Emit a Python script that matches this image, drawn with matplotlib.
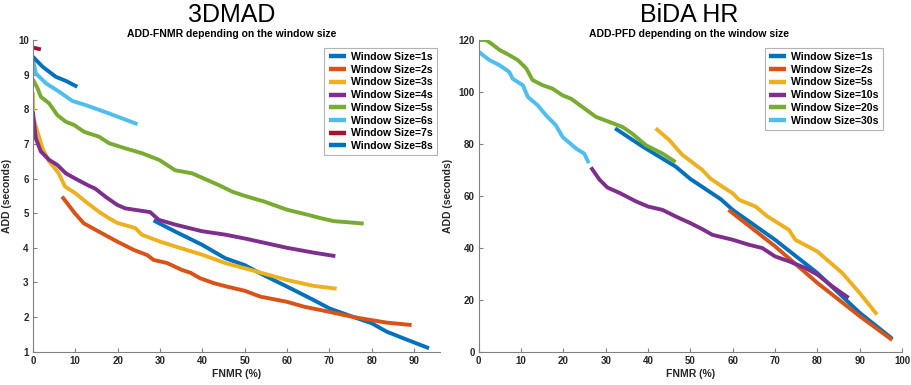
import matplotlib
matplotlib.use("Agg")
import matplotlib.pyplot as plt

plt.rcParams['font.family'] = ['Liberation Sans', 'DejaVu Sans']

C = ['#0072BD', '#D95319', '#EDB120', '#7E2F8E', '#77AC30', '#4DBEEE', '#A2142F', '#0072BD']

# ---------------- 3DMAD (left) ----------------
left_labels = ['Window Size=1s', 'Window Size=2s', 'Window Size=3s', 'Window Size=4s',
               'Window Size=5s', 'Window Size=6s', 'Window Size=7s', 'Window Size=8s']

w1_x = [28.5, 33.6, 39.9, 45.4, 50.0, 54.5, 60.0, 66.3, 70.0, 75.7, 80.0, 83.5, 87.6, 93.5]
w1_y = [4.79, 4.47, 4.09, 3.70, 3.50, 3.21, 2.88, 2.49, 2.25, 2.00, 1.82, 1.58, 1.38, 1.10]

w2_x = [6.9, 9.9, 12.0, 14.8, 19.9, 23.8, 27.0, 28.5, 31.7, 35.2, 37.2, 39.5, 42.7, 45.8,
        50.0, 53.7, 60.0, 64.0, 70.0, 75.7, 80.0, 83.5, 89.4]
w2_y = [5.48, 5.00, 4.71, 4.52, 4.18, 3.94, 3.79, 3.65, 3.56, 3.36, 3.28, 3.12, 2.98, 2.88,
        2.76, 2.59, 2.44, 2.30, 2.15, 2.00, 1.91, 1.84, 1.77]

w3_x = [0.0, 0.1, 1.1, 2.3, 3.85, 4.9, 6.1, 7.6, 10.0, 12.4, 15.5, 17.9, 19.9, 24.2, 25.7,
        30.0, 33.6, 40.0, 45.4, 50.0, 60.0, 66.3, 71.7]
w3_y = [8.49, 7.76, 7.35, 6.87, 6.49, 6.34, 6.15, 5.77, 5.58, 5.34, 5.05, 4.86, 4.72, 4.57, 4.38,
        4.18, 4.04, 3.80, 3.56, 3.41, 3.07, 2.90, 2.82]

w4_x = [0.0, 0.7, 1.9, 3.85, 5.8, 7.8, 10.0, 13.1, 14.7, 17.1, 19.9, 21.8, 25.0, 27.7, 29.7,
        33.6, 39.9, 45.4, 50.0, 60.0, 66.3, 71.4]
w4_y = [7.93, 7.16, 6.78, 6.54, 6.39, 6.15, 6.00, 5.80, 5.71, 5.48, 5.24, 5.14, 5.08, 5.03, 4.81,
        4.67, 4.48, 4.38, 4.27, 4.00, 3.86, 3.76]

w5_x = [0.0, 1.1, 1.9, 3.85, 5.8, 7.8, 9.7, 12.1, 15.6, 18.0, 21.9, 25.8, 29.8, 33.6, 37.6,
        43.9, 47.1, 50.0, 54.5, 60.0, 64.7, 67.8, 71.0, 74.2, 78.1]
w5_y = [8.87, 8.61, 8.36, 8.17, 7.83, 7.64, 7.55, 7.35, 7.21, 7.02, 6.87, 6.73, 6.54, 6.24, 6.15,
        5.81, 5.62, 5.50, 5.34, 5.10, 4.96, 4.86, 4.77, 4.74, 4.70]

w6_x = [0.0, 0.7, 3.1, 6.2, 9.35, 12.5, 18.0, 24.7]
w6_y = [9.47, 9.04, 8.75, 8.51, 8.24, 8.12, 7.88, 7.57]

w7_x = [0.1, 1.9]
w7_y = [9.78, 9.73]

w8_x = [0.0, 2.3, 5.4, 7.8, 10.5]
w8_y = [9.52, 9.23, 8.94, 8.82, 8.65]

left_series = [(w1_x, w1_y), (w2_x, w2_y), (w3_x, w3_y), (w4_x, w4_y),
               (w5_x, w5_y), (w6_x, w6_y), (w7_x, w7_y), (w8_x, w8_y)]
left_xticks = [0, 10, 20, 30, 40, 50, 60, 70, 80, 90]
left_yticks = [1, 2, 3, 4, 5, 6, 7, 8, 9, 10]

# ---------------- BiDA HR (right) ----------------
right_labels = ['Window Size=1s', 'Window Size=2s', 'Window Size=5s',
                'Window Size=10s', 'Window Size=20s', 'Window Size=30s']

r1_x = [32.2, 38.7, 46.5, 50.0, 57.2, 60.0, 70.0, 80.0, 90.0, 97.7]
r1_y = [86.0, 79.0, 71.3, 66.5, 58.7, 54.6, 43.1, 30.3, 15.0, 5.0]

r2_x = [59.0, 70.0, 80.0, 90.0, 97.7]
r2_y = [54.6, 40.6, 26.5, 13.7, 4.5]

r5_x = [41.8, 45.0, 48.1, 52.8, 54.8, 57.5, 60.0, 61.5, 65.4, 68.2, 73.3, 74.8, 80.0, 82.7,
        85.9, 90.0, 94.1]
r5_y = [86.0, 81.5, 75.8, 70.0, 66.6, 63.6, 61.0, 58.5, 55.9, 52.1, 46.9, 43.1, 38.6, 34.8,
        30.3, 22.6, 14.3]

r10_x = [26.5, 28.5, 30.4, 33.2, 37.1, 40.0, 43.4, 46.5, 50.0, 52.8, 55.2, 60.0, 63.8, 67.0,
         70.0, 73.3, 77.2, 80.0, 83.5, 87.4]
r10_y = [71.0, 66.3, 63.2, 61.2, 57.9, 55.9, 54.6, 52.1, 49.5, 47.2, 45.0, 43.1, 41.2, 39.9,
         36.7, 34.8, 32.2, 29.7, 25.2, 20.7]

r20_x = [0.2, 1.7, 2.9, 4.9, 7.2, 9.2, 11.2, 12.7, 15.1, 17.4, 19.8, 21.8, 24.5, 27.7, 30.8,
         34.0, 36.3, 39.5, 43.4, 46.5]
r20_y = [120.0, 120.0, 118.7, 116.2, 114.2, 112.3, 109.1, 104.6, 102.6, 101.3, 98.7, 97.4,
         94.2, 90.4, 88.5, 86.5, 83.9, 79.5, 76.3, 73.0]

r30_x = [0.0, 1.0, 2.5, 4.9, 7.2, 8.0, 10.4, 11.6, 13.9, 15.9, 18.2, 19.8, 23.0, 24.9, 26.0]
r30_y = [115.5, 114.2, 112.3, 110.3, 107.7, 105.1, 102.6, 98.1, 94.9, 91.0, 87.2, 82.7,
         78.2, 76.3, 72.6]

right_series = [(r1_x, r1_y), (r2_x, r2_y), (r5_x, r5_y),
                (r10_x, r10_y), (r20_x, r20_y), (r30_x, r30_y)]
right_colors = C[:6]
right_xticks = [0, 10, 20, 30, 40, 50, 60, 70, 80, 90, 100]
right_yticks = [0, 20, 40, 60, 80, 100, 120]

fig = plt.figure(figsize=(9.12, 3.85), dpi=100)
axL = fig.add_axes([0.036, 0.0865, 0.446, 0.8095])
axR = fig.add_axes([0.525, 0.0865, 0.464, 0.8095])

AX_COL = '#808080'
TXT_COL = '#262626'


def style(ax, xt, yt, xlim, ylim):
    ax.set_xlim(*xlim)
    ax.set_ylim(*ylim)
    ax.set_xticks(xt)
    ax.set_yticks(yt)
    for s in ['top', 'right']:
        ax.spines[s].set_visible(False)
    for s in ['left', 'bottom']:
        ax.spines[s].set_color(AX_COL)
        ax.spines[s].set_linewidth(0.8)
    ax.tick_params(direction='in', length=3, width=0.8, color=AX_COL,
                   labelsize=7, labelcolor=TXT_COL, pad=3)
    for lab in ax.get_xticklabels() + ax.get_yticklabels():
        lab.set_fontweight('bold')
    ax.set_xlabel('FNMR (%)', fontsize=7.5, fontweight='bold', color=TXT_COL, labelpad=2)
    ax.set_ylabel('ADD (seconds)', fontsize=7.5, fontweight='bold', color=TXT_COL, labelpad=4)


def legend(ax, anchor):
    leg = ax.legend(loc='upper right', bbox_to_anchor=anchor, bbox_transform=fig.transFigure,
                    prop={'weight': 'bold', 'size': 7.6}, frameon=True, fancybox=False,
                    edgecolor='#a0a0a0', handlelength=1.6, handletextpad=0.5,
                    labelspacing=0.26, borderpad=0.4, borderaxespad=0)
    leg.get_frame().set_linewidth(0.8)
    for line in leg.get_lines():
        line.set_linewidth(3.2)
    return leg


for (x, y), c, lab in zip(left_series, C, left_labels):
    axL.plot(x, y, color=c, lw=2.8, label=lab, solid_capstyle='butt')
style(axL, left_xticks, left_yticks, (0, 96), (1, 10))
legend(axL, (0.479, 0.876))

for (x, y), c, lab in zip(right_series, right_colors, right_labels):
    axR.plot(x, y, color=c, lw=2.8, label=lab, solid_capstyle='butt')
style(axR, right_xticks, right_yticks, (0, 100), (0, 120))
legend(axR, (0.968, 0.876))

fig.text(0.254, 0.962, '3DMAD', fontsize=18, ha='center', va='center', color='black')
fig.text(0.254, 0.912, 'ADD-FNMR depending on the window size', fontsize=7.5,
         fontweight='bold', ha='center', va='center', color='black')
fig.text(0.756, 0.962, 'BiDA HR', fontsize=18, ha='center', va='center', color='black')
fig.text(0.756, 0.912, 'ADD-PFD depending on the window size', fontsize=7.5,
         fontweight='bold', ha='center', va='center', color='black')

fig.savefig('out.png', dpi=100)
